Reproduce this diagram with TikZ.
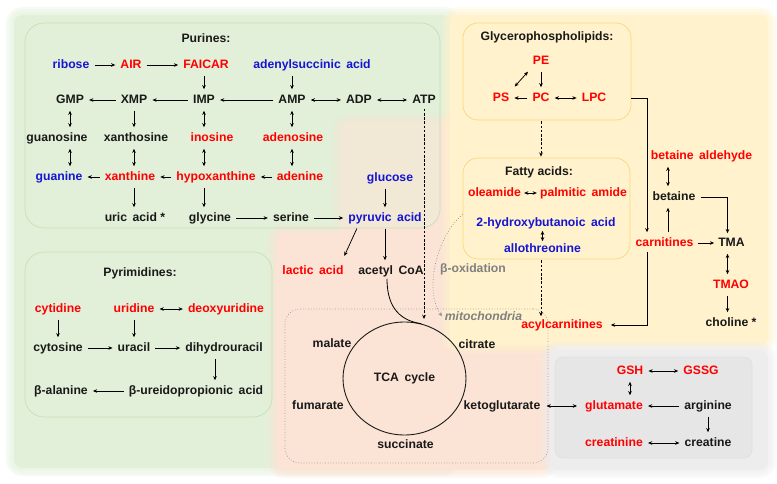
\documentclass[tikz,border=0pt]{standalone}
\usepackage{fontspec}
\setmainfont{Liberation Sans}
\usetikzlibrary{arrows.meta,shapes.geometric}
\definecolor{bgGreen}{RGB}{226,240,217}
\definecolor{bgSalmon}{RGB}{251,228,213}
\definecolor{bgYellow}{RGB}{255,242,204}
\definecolor{bgGray}{RGB}{237,237,237}
\definecolor{boxGray}{RGB}{230,230,230}
\definecolor{edGreen}{RGB}{197,224,180}
\definecolor{edYellow}{RGB}{250,215,125}
\definecolor{tRed}{RGB}{255,0,0}
\definecolor{tBlue}{RGB}{20,20,210}
\definecolor{tGray}{RGB}{128,128,128}
\newcommand\wsp{\hspace{0.45em}}
\newcommand\softregion[2]{%
 \foreach \w in {16,11,6}{\draw[#1, line width=\w pt, opacity=0.3, rounded corners=8pt, line join=round] #2;}%
 \fill[#1, rounded corners=8pt] #2;}
\tikzset{
 lbl/.style={font=\fontsize{12.2}{14}\selectfont\bfseries, inner sep=2pt, text height=8.7pt, text depth=2.4pt},
 mred/.style={lbl, text=tRed},
 mblue/.style={lbl, text=tBlue},
 mblk/.style={lbl, text=black!90},
 mgray/.style={lbl, text=tGray},
 con/.style={->, line width=0.75pt, shorten >=3pt, shorten <=3pt},
 bicon/.style={<->, line width=0.75pt, shorten >=3pt, shorten <=3pt},
 dcon/.style={->, line width=0.8pt, dash pattern=on 2.6pt off 1.6pt, shorten >=1pt, shorten <=1pt},
 greenbox/.style={draw=edGreen, line width=0.7pt, fill=bgGreen, fill opacity=0.35, rounded corners=19pt, inner sep=0pt},
 yellowbox/.style={draw=edYellow, line width=0.7pt, fill=bgYellow, rounded corners=15pt, inner sep=0pt},
}
\begin{document}
\begin{tikzpicture}[x=1pt, y=-1pt, >={Stealth[length=4.2pt,width=3.6pt]}]
\useasboundingbox (0,0) rectangle (777,484);
% background regions
\softregion{bgGreen}{(14,15) rectangle (452,468)}
\softregion{bgSalmon}{(340,122) rectangle (550,470) (276,232) rectangle (550,470)}
\softregion{bgYellow}{(450,15) rectangle (768,345)}
\softregion{bgGray}{(550,350) rectangle (768,470)}
% boxes
\node[greenbox, minimum width=415pt, minimum height=205pt] (purbox) at (232.5,125.5) {};
\node[greenbox, minimum width=247pt, minimum height=165pt] (pyrbox) at (148.5,334.5) {};
\node[yellowbox, minimum width=168pt, minimum height=97pt] (glybox) at (547,71.5) {};
\node[yellowbox, minimum width=167pt, minimum height=101pt] (fatbox) at (546.5,208.5) {};
\node[draw=tGray!80, dotted, line width=0.7pt, rounded corners=15pt, minimum width=263pt, minimum height=154pt, inner sep=0pt] (mitobox) at (416.5,386) {};
\node[draw=gray!25, fill=boxGray, line width=0.6pt, rounded corners=8pt, minimum width=197pt, minimum height=101pt, inner sep=0pt] (graybox) at (653.5,407.5) {};

% Purines
\node[mblk] (purT) at (206,39) {Purines:};
\node[mblue] (ribose) at (71,65) {ribose};
\node[mred] (AIR) at (131,65) {AIR};
\node[mred] (FAICAR) at (206,65) {FAICAR};
\node[mblue] (adsuc) at (312,65) {adenylsuccinic\wsp acid};
\node[mblk] (GMP) at (70,100) {GMP};
\node[mblk] (XMP) at (134,100) {XMP};
\node[mblk] (IMP) at (204,100) {IMP};
\node[mblk] (AMP) at (292,100) {AMP};
\node[mblk] (ADP) at (359,100) {ADP};
\node[mblk] (ATP) at (424,100) {ATP};
\node[mblk] (guanosine) at (57,138) {guanosine};
\node[mblk] (xanthosine) at (136,138) {xanthosine};
\node[mred] (inosine) at (212,138) {inosine};
\node[mred] (adenosine) at (293,138) {adenosine};
\node[mblue] (guanine) at (59,177) {guanine};
\node[mred] (xanthine) at (130,177) {xanthine};
\node[mred] (hypox) at (216,177) {hypoxanthine};
\node[mred] (adenine) at (300,177) {adenine};
\node[mblk] (uric) at (135,218) {uric\wsp acid *};
\node[mblk] (glycine) at (210,218) {glycine};
\node[mblk] (serine) at (291,218) {serine};
\node[mblue] (pyruvic) at (385,218) {pyruvic\wsp acid};
\node[mblue] (glucose) at (390,178) {glucose};
\node[mred] (lactic) at (313,271) {lactic\wsp acid};
\node[mblk] (acetyl) at (391,271) {acetyl\wsp CoA};

\draw[con] (ribose) -- (AIR);
\draw[con] (AIR) -- (FAICAR);
\draw[con] (FAICAR.south -| IMP) -- (IMP);
\draw[con] (adsuc.south -| AMP) -- (AMP);
\draw[con] (XMP) -- (GMP);
\draw[con] (IMP) -- (XMP);
\draw[con] (AMP) -- (IMP);
\draw[bicon] (AMP) -- (ADP);
\draw[bicon] (ADP) -- (ATP);
\draw[bicon] (GMP) -- (GMP |- guanosine.north);
\draw[bicon] (GMP |- guanosine.south) -- (GMP |- guanine.north);
\draw[con] (XMP) -- (XMP |- xanthosine.north);
\draw[bicon] (XMP |- xanthosine.south) -- (XMP |- xanthine.north);
\draw[con] (XMP |- xanthine.south) -- (XMP |- uric.north);
\draw[bicon] (IMP) -- (IMP |- inosine.north);
\draw[bicon] (IMP |- inosine.south) -- (IMP |- hypox.north);
\draw[con] (IMP |- hypox.south) -- (IMP |- glycine.north);
\draw[bicon] (AMP) -- (AMP |- adenosine.north);
\draw[bicon] (AMP |- adenosine.south) -- (AMP |- adenine.north);
\draw[con] (xanthine) -- (guanine);
\draw[con] (hypox) -- (xanthine);
\draw[con] (adenine) -- (hypox);
\draw[con] (glycine) -- (serine);
\draw[con] (serine) -- (pyruvic);
\draw[con] (pyruvic |- glucose.south) -- (pyruvic);
\draw[con] (pyruvic) -- (pyruvic |- acetyl.north);
\draw[con, shorten >=8pt] ([xshift=12pt]pyruvic.south west) -- ([xshift=28pt]lactic.north);
\coordinate (atpEnd) at (424,320);
\draw[dcon] (ATP) -- (atpEnd);

% Pyrimidines
\node[mblk] (pyrT) at (140,273) {Pyrimidines:};
\node[mred] (cytidine) at (58,309) {cytidine};
\node[mred] (uridine) at (134,309) {uridine};
\node[mred] (deoxyuridine) at (226,309) {deoxyuridine};
\node[mblk] (cytosine) at (58,348) {cytosine};
\node[mblk] (uracil) at (134,348) {uracil};
\node[mblk] (dihydro) at (224,348) {dihydrouracil};
\node[mblk] (betaAla) at (61,391) {β-alanine};
\node[mblk] (ureido) at (196,391) {β-ureidopropionic\wsp acid};
\draw[con] (cytidine) -- (cytidine |- cytosine.north);
\draw[con] (uridine) -- (uridine |- uracil.north);
\draw[bicon] (uridine) -- (deoxyuridine);
\draw[con] (cytosine) -- (uracil);
\draw[con] (uracil) -- (dihydro);
\draw[con] ([xshift=-9pt]dihydro.south) -- ([xshift=-9pt]dihydro.south |- ureido.north);
\draw[con] (ureido) -- (betaAla);

% Glycerophospholipids
\node[mblk] (glyT) at (547,37) {Glycerophospholipids:};
\node[mred] (PE) at (541,61) {PE};
\node[mred] (PS) at (501,98) {PS};
\node[mred] (PC) at (541,98) {PC};
\node[mred] (LPC) at (594,98) {LPC};
\draw[con] (PE) -- (PC);
\draw[bicon, shorten <=4pt, shorten >=5pt] (PE.south west) -- (PS.north east);
\draw[con] (PC) -- (PS);
\draw[bicon] (PC) -- (LPC);
\draw[dcon] (glybox.south -| PC) -- (fatbox.north -| PC);

% Fatty acids
\node[mblk] (fatT) at (539,172) {Fatty acids:};
\node[mred] (oleamide) at (494.5,193) {oleamide};
\node[mred] (palmitic) at (583.5,193) {palmitic\wsp amide};
\node[mblue] (hydroxy) at (546,223) {2-hydroxybutanoic\wsp acid};
\node[mblue] (allothr) at (542.5,249) {allothreonine};
\draw[bicon, shorten <=1pt, shorten >=1pt] (oleamide) -- (palmitic);
\draw[bicon, shorten <=0pt, shorten >=0pt] (allothr |- hydroxy.south) -- (allothr);

% right side
\node[mred] (betald) at (701.5,156) {betaine\wsp aldehyde};
\node[mblk] (betaine) at (674,197) {betaine};
\node[mred] (carnitines) at (664.5,243) {carnitines};
\node[mblk] (TMA) at (731.5,243) {TMA};
\node[mred] (TMAO) at (731,285) {TMAO};
\node[mblk] (choline) at (731,323) {choline *};
\node[mred] (acyl) at (562,325) {acylcarnitines};
\draw[bicon] ([xshift=-6pt]betaine.north |- betald.south) -- ([xshift=-6pt]betaine.north);
\draw[con] ([xshift=-6pt]betaine.south |- carnitines.north) -- ([xshift=-6pt]betaine.south);
\draw[con, shorten <=3pt, shorten >=2pt] (betaine.east) -| ([xshift=-4pt]TMA.north);
\draw[con, shorten <=2pt, shorten >=2pt] (carnitines) -- (TMA);
\draw[bicon] ([xshift=-4pt]TMA.south) -- ([xshift=-4pt]TMA.south |- TMAO.north);
\draw[con] ([xshift=-4pt]TMA.south |- TMAO.south) -- ([xshift=-4pt]TMA.south |- choline.north);
\draw[con, shorten <=0pt] (glybox.east |- LPC) -| ([xshift=-17.5pt]carnitines.north);
\draw[con, shorten <=1pt, shorten >=6pt] ([xshift=-17.5pt]carnitines.south) |- (acyl.east);
\draw[dcon] (fatbox.south -| PC) -- (PC |- acyl.north);

% TCA / mitochondria
\node[mgray, font=\fontsize{12.2}{14}\selectfont\bfseries\itshape] (mito) at (483.5,317) {mitochondria};
\node[mgray] (betaox) at (473,269) {β-oxidation};
\node[mblk, draw=black!90, ellipse, line width=0.9pt, minimum width=123pt, minimum height=113pt, inner sep=0pt] (tca) at (404.5,378.5) {TCA\wsp cycle};
\node[mblk] (malate) at (332,344) {malate};
\node[mblk] (citrate) at (477,345) {citrate};
\node[mblk] (fumarate) at (318,406) {fumarate};
\node[mblk] (keto) at (502,406) {ketoglutarate};
\node[mblk] (succinate) at (405.5,445) {succinate};
\draw[line width=0.8pt] ([xshift=-4pt]acetyl.south) .. controls +(0,24) and (396,320) .. (tca.73);
\draw[->, tGray!90, dotted, line width=0.7pt, shorten >=1pt] ([yshift=-6pt]fatbox.west) .. controls (436,236) and (424,292) .. (mito.west);

% gray region
\node[mred] (GSH) at (630,371) {GSH};
\node[mred] (GSSG) at (701,371) {GSSG};
\node[mred] (glutamate) at (614,406) {glutamate};
\node[mblk] (arginine) at (708,406) {arginine};
\node[mred] (creatinine) at (614,443) {creatinine};
\node[mblk] (creatine) at (708,443) {creatine};
\draw[bicon] (GSH) -- (GSSG);
\draw[bicon] (GSH) -- (GSH |- glutamate.north);
\draw[con] (arginine) -- (glutamate);
\draw[con] (arginine) -- (arginine |- creatine.north);
\draw[bicon] (creatinine) -- (creatine);
\draw[bicon, shorten <=4pt, shorten >=6pt] (keto) -- (glutamate);
\end{tikzpicture}
\end{document}
